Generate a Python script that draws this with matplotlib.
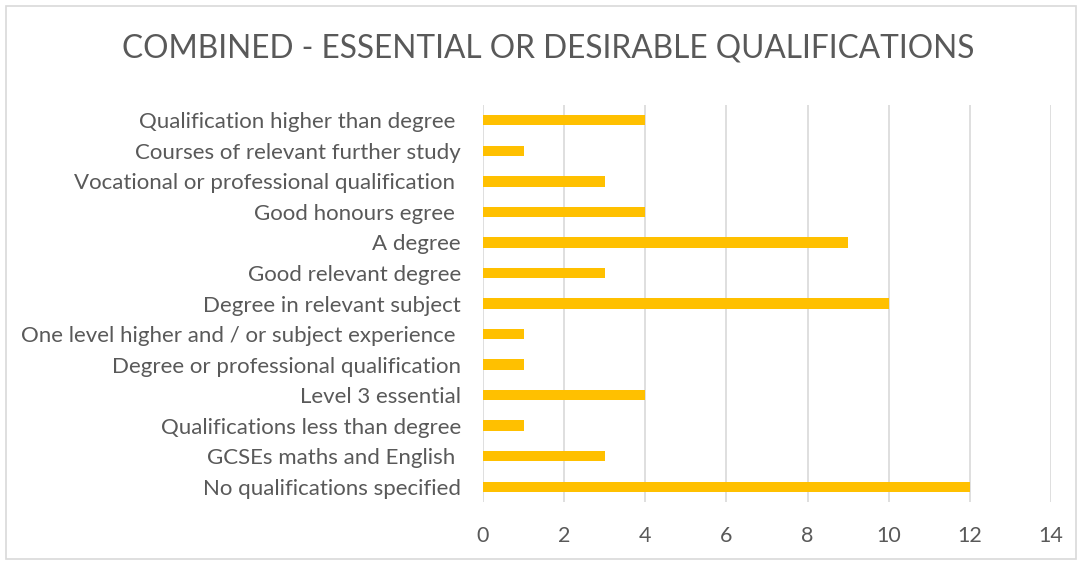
import matplotlib.pyplot as plt
from matplotlib.patches import Rectangle

# categories listed top to bottom as in the chart
categories = [
    "Qualification higher than degree ",
    "Courses of relevant further study",
    "Vocational or professional qualification ",
    "Good honours egree ",
    "A degree",
    "Good relevant degree",
    "Degree in relevant subject",
    "One level higher and / or subject experience ",
    "Degree or professional qualification",
    "Level 3 essential",
    "Qualifications less than degree",
    "GCSEs maths and English ",
    "No qualifications specified",
]
counts = [4, 1, 3, 4, 9, 3, 10, 1, 1, 4, 1, 3, 12]
x_ticks = [0, 2, 4, 6, 8, 10, 12, 14]

TEXT = "#595959"
GRID = "#d9d9d9"
BAR = "#FFC000"

plt.rcParams['font.family'] = ['Lato', 'DejaVu Sans']

fig = plt.figure(figsize=(10.83, 5.63), dpi=100)
ax = fig.add_axes([483 / 1083, 1 - 502 / 563, (1051 - 483) / 1083, (502 - 105) / 563])

ypos = list(range(len(categories)))[::-1]
ax.barh(ypos, counts, height=0.34, color=BAR, zorder=3)

ax.set_xlim(0, 14)
ax.set_ylim(-0.5, len(categories) - 0.5)
ax.set_xticks(x_ticks)
ax.set_xticklabels([str(t) for t in x_ticks])
ax.set_yticks(ypos)
ax.set_yticklabels(categories)

ax.tick_params(axis='x', length=0, pad=17, labelsize=15.5, labelcolor=TEXT)
ax.tick_params(axis='y', length=0, pad=16, labelsize=16, labelcolor=TEXT)
ax.grid(axis='x', color=GRID, linewidth=1.2, zorder=0)
for s in ax.spines.values():
    s.set_visible(False)

fig.text(548 / 1083, 1 - 48 / 563, "COMBINED - ESSENTIAL OR DESIRABLE QUALIFICATIONS",
         ha='center', va='center', fontsize=22.8, color=TEXT)

# outer chart border
fig.patches.append(Rectangle((6 / 1083, 1 - 559 / 563), 1070 / 1083, 553 / 563,
                             transform=fig.transFigure, fill=False,
                             edgecolor=GRID, linewidth=1.2))

fig.savefig("out.png", dpi=100)
